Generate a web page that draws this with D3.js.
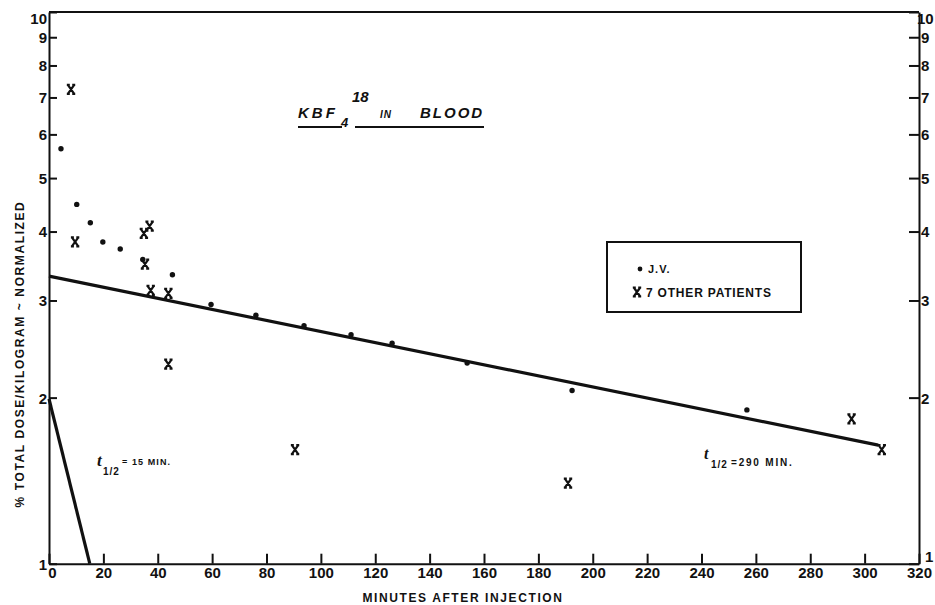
<!DOCTYPE html>
<html>
<head>
<meta charset="utf-8">
<script src="https://cdn.jsdelivr.net/npm/d3@7"></script>
<style>
  body { margin: 0; background: #fff; }
  svg { display: block; }
  .tick text { font-family: "Liberation Sans", Arial, sans-serif; font-weight: bold; font-size: 15px; fill: #111; }
</style>
</head>
<body>
<script>
// Valeurs
const xTicks = [0, 20, 40, 60, 80, 100, 120, 140, 160, 180, 200, 220, 240, 260, 280, 300, 320];
const yTicks = [1, 2, 3, 4, 5, 6, 7, 8, 9, 10];

// J.V. (points)
const jvMinutes = [4.4, 10.2, 15.2, 19.8, 26.2, 34.5, 45.4, 59.6, 76.1, 93.8, 111.1, 126.2, 153.8, 192.4, 256.7];
const jvValues  = [5.65, 4.48, 4.15, 3.83, 3.72, 3.56, 3.34, 2.95, 2.82, 2.70, 2.60, 2.51, 2.31, 2.06, 1.90];

// 7 autres patients (croix)
const otherMinutes = [8.1, 9.6, 34.9, 37.0, 35.3, 37.4, 43.9, 43.9, 90.5, 190.9, 295.2, 306.3];
const otherValues  = [7.24, 3.83, 3.97, 4.09, 3.49, 3.13, 3.09, 2.30, 1.61, 1.40, 1.83, 1.61];

// Droites de demi-vie
const slowLine = [[0, 3.32], [305, 1.64]];
const fastLine = [[0, 1.99], [15, 1.0]];

const W = 935, H = 605;
const plotLeft = 49, plotRight = 919, plotTop = 12, plotBottom = 563.7;
const ink = "#111";
const sans = "Liberation Sans, Arial, sans-serif";

const svg = d3.select("body").append("svg")
    .attr("width", W)
    .attr("height", H);

const x = d3.scaleLinear().domain([0, 320]).range([plotLeft, plotRight]);
const y = d3.scaleLog().domain([1, 10]).range([plotBottom, plotTop]);

// Axes (graduations vers l'intérieur)
const xAxis = svg.append("g")
    .attr("transform", `translate(0,${plotBottom})`)
    .call(d3.axisBottom(x).tickValues(xTicks).tickSize(-10).tickSizeOuter(0).tickPadding(4).tickFormat(d3.format("d")));

const yLeft = svg.append("g")
    .attr("transform", `translate(${plotLeft},0)`)
    .call(d3.axisLeft(y).tickValues(yTicks).tickSize(-8).tickSizeOuter(0).tickPadding(2).tickFormat(d3.format("d")));

const yRight = svg.append("g")
    .attr("transform", `translate(${plotRight},0)`)
    .call(d3.axisRight(y).tickValues(yTicks).tickSize(-10).tickSizeOuter(0).tickPadding(2).tickFormat(d3.format("d")));

[xAxis, yLeft, yRight].forEach(g => {
  g.selectAll("line, path").attr("stroke", ink).attr("stroke-width", 2);
});
xAxis.selectAll(".tick text").attr("dx", d => d === 0 ? 3 : 0);
yLeft.selectAll(".tick text").attr("dy", d => d === 10 ? "0.75em" : "0.36em");
yRight.selectAll(".tick text")
    .attr("dy", d => d === 10 ? "0.75em" : d === 1 ? "-0.15em" : "0.36em")
    .attr("dx", d => d === 10 ? -4 : d === 1 ? 4 : 0);

// Cadre du haut
svg.append("line")
    .attr("x1", plotLeft).attr("x2", plotRight)
    .attr("y1", plotTop).attr("y2", plotTop)
    .attr("stroke", ink).attr("stroke-width", 2);

// Droites ajustées
const line = d3.line().x(d => x(d[0])).y(d => y(d[1]));
[slowLine, fastLine].forEach(l => {
  svg.append("path")
      .attr("d", line(l))
      .attr("fill", "none")
      .attr("stroke", ink)
      .attr("stroke-width", 3.2);
});

// Marqueur en croix
function cross(g, cx, cy) {
  const w = 3.2, h = 4.5;
  g.append("path")
      .attr("d", `M${cx - w},${cy - h}L${cx + w},${cy + h}M${cx + w},${cy - h}L${cx - w},${cy + h}` +
                 `M${cx - w - 1},${cy - h}L${cx - w + 2},${cy - h}M${cx + w - 2},${cy - h}L${cx + w + 1},${cy - h}` +
                 `M${cx - w - 1},${cy + h}L${cx - w + 2},${cy + h}M${cx + w - 2},${cy + h}L${cx + w + 1},${cy + h}`)
      .attr("fill", "none")
      .attr("stroke", ink)
      .attr("stroke-width", 2.2);
}

// Points J.V.
svg.append("g").selectAll("circle")
    .data(jvMinutes.map((m, i) => [m, jvValues[i]]))
    .enter().append("circle")
    .attr("cx", d => x(d[0]))
    .attr("cy", d => y(d[1]))
    .attr("r", 2.7)
    .attr("fill", ink);

// Croix des autres patients
const crosses = svg.append("g");
otherMinutes.forEach((m, i) => cross(crosses, x(m), y(otherValues[i])));

// Titre
const title = svg.append("text")
    .attr("x", 298).attr("y", 118)
    .attr("font-family", sans)
    .attr("font-weight", "bold")
    .attr("font-style", "italic")
    .attr("fill", ink);
title.append("tspan").attr("font-size", 15).attr("letter-spacing", 3).text("KBF");
title.append("tspan").attr("x", 341).attr("y", 127).attr("font-size", 13).text("4");
title.append("tspan").attr("x", 352).attr("y", 102).attr("font-size", 15).text("18");
title.append("tspan").attr("x", 380).attr("y", 118).attr("font-size", 10).attr("letter-spacing", 1).text("IN");
title.append("tspan").attr("x", 420).attr("y", 118).attr("font-size", 15).attr("letter-spacing", 2).text("BLOOD");

svg.append("line").attr("x1", 298).attr("x2", 342).attr("y1", 127).attr("y2", 127)
    .attr("stroke", ink).attr("stroke-width", 2);
svg.append("line").attr("x1", 355).attr("x2", 484).attr("y1", 127).attr("y2", 127)
    .attr("stroke", ink).attr("stroke-width", 2);

// Légende
svg.append("rect")
    .attr("x", 607).attr("y", 242)
    .attr("width", 194).attr("height", 70)
    .attr("fill", "none")
    .attr("stroke", ink)
    .attr("stroke-width", 2);
svg.append("circle").attr("cx", 640).attr("cy", 269).attr("r", 2.4).attr("fill", ink);
cross(svg, 637, 292);
svg.append("text")
    .attr("x", 648).attr("y", 273)
    .attr("font-family", sans)
    .attr("font-weight", "bold").attr("font-size", 11).attr("letter-spacing", 1)
    .attr("fill", ink)
    .text("J.V.");
svg.append("text")
    .attr("x", 646).attr("y", 297)
    .attr("font-family", sans)
    .attr("font-weight", "bold").attr("font-size", 12).attr("letter-spacing", 0.8)
    .attr("fill", ink)
    .text("7 OTHER PATIENTS");

// Annotations de demi-vie
function halfLife(a) {
  const t = svg.append("text").attr("fill", ink);
  t.append("tspan")
      .attr("x", a.tx).attr("y", a.ty)
      .attr("font-family", "Liberation Serif, serif")
      .attr("font-style", "italic").attr("font-weight", "bold")
      .attr("font-size", a.tSize)
      .text("t");
  t.append("tspan")
      .attr("x", a.sx).attr("y", a.sy)
      .attr("font-family", sans)
      .attr("font-weight", "bold").attr("font-size", 10)
      .attr("letter-spacing", 1)
      .text("1/2");
  t.append("tspan")
      .attr("x", a.lx).attr("y", a.ly)
      .attr("font-family", sans)
      .attr("font-weight", "bold").attr("font-size", a.lSize)
      .attr("letter-spacing", a.ls)
      .text(a.label);
}
halfLife({ tx: 97, ty: 466, tSize: 17, sx: 103, sy: 475, lx: 122, ly: 465, lSize: 9, ls: 1.1, label: "= 15 MIN." });
halfLife({ tx: 704, ty: 459, tSize: 16, sx: 711, sy: 468, lx: 731, ly: 466, lSize: 10, ls: 1.8, label: "=290 MIN." });

// Titres des axes
svg.append("text")
    .attr("x", 463).attr("y", 602)
    .attr("text-anchor", "middle")
    .attr("font-family", sans)
    .attr("font-weight", "bold").attr("font-size", 12).attr("letter-spacing", 1.6)
    .attr("fill", ink)
    .text("MINUTES AFTER INJECTION");

svg.append("text")
    .attr("transform", "translate(24,354) rotate(-90)")
    .attr("text-anchor", "middle")
    .attr("font-family", sans)
    .attr("font-weight", "bold").attr("font-size", 12).attr("letter-spacing", 1.6)
    .attr("fill", ink)
    .text("% TOTAL DOSE/KILOGRAM ~ NORMALIZED");
</script>
</body>
</html>
